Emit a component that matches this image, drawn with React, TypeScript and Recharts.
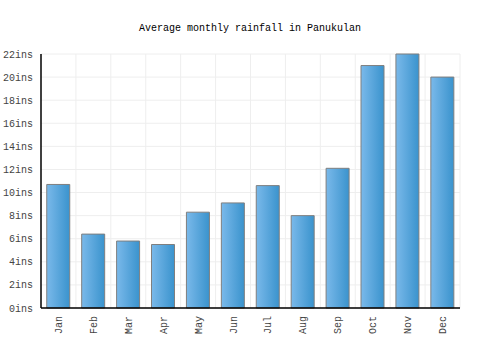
import { BarChart, Bar, XAxis, YAxis, CartesianGrid } from 'recharts';

const months = ['Jan', 'Feb', 'Mar', 'Apr', 'May', 'Jun', 'Jul', 'Aug', 'Sep', 'Oct', 'Nov', 'Dec'];
const rainfall = [10.7, 6.4, 5.8, 5.5, 8.3, 9.1, 10.6, 8.0, 12.1, 21.0, 22.0, 20.0];
const yTicks = [0, 2, 4, 6, 8, 10, 12, 14, 16, 18, 20, 22];

const data = months.map((m, i) => ({ month: m, rain: rainfall[i] }));

const FONT = '"Liberation Mono", monospace';

function MonthTick({ x, y, payload }: any) {
  return (
    <text
      x={x}
      y={y}
      dy="0.35em"
      transform={`rotate(-90, ${x}, ${y})`}
      textAnchor="end"
      fontFamily={FONT}
      fontSize={10}
      fill="#444"
    >
      {payload.value}
    </text>
  );
}

export default function App() {
  return (
    <div style={{ position: 'fixed', left: 0, top: 0, width: 500, height: 350, background: '#fff' }}>
      <div
        style={{
          position: 'absolute', top: 22, left: 0, width: 500, textAlign: 'center',
          fontFamily: FONT, fontSize: 10, color: '#000', lineHeight: '14px',
        }}
      >
        Average monthly rainfall in Panukulan
      </div>
      <BarChart
        width={500}
        height={350}
        data={data}
        margin={{ top: 54, right: 40, bottom: 0, left: 0 }}
        barCategoryGap="16.5%"
      >
        <CartesianGrid
          stroke="#eeeeee"
          verticalCoordinatesGenerator={({ offset }: any) =>
            months.map((_, i) => offset.left + ((i + 1) * offset.width) / months.length)
          }
        />
        <defs>
          <linearGradient id="barFill" x1="0" y1="0" x2="1" y2="0">
            <stop offset="0%" stopColor="#7ab9ea" />
            <stop offset="100%" stopColor="#3a93cd" />
          </linearGradient>
        </defs>
        <XAxis
          dataKey="month"
          height={42}
          tickLine={false}
          axisLine={{ stroke: '#000', strokeWidth: 1.5 }}
          tick={<MonthTick />}
          interval={0}
        />
        <YAxis
          width={41}
          domain={[0, 22]}
          ticks={yTicks}
          interval={0}
          tickFormatter={(v: number) => `${v}ins`}
          tickLine={false}
          axisLine={{ stroke: '#000', strokeWidth: 1.5 }}
          tick={{ fontSize: 10, fill: '#444', fontFamily: FONT }}
        />
        <Bar dataKey="rain" fill="url(#barFill)" stroke="#7f7f7f" strokeWidth={1} isAnimationActive={false} />
      </BarChart>
    </div>
  );
}
